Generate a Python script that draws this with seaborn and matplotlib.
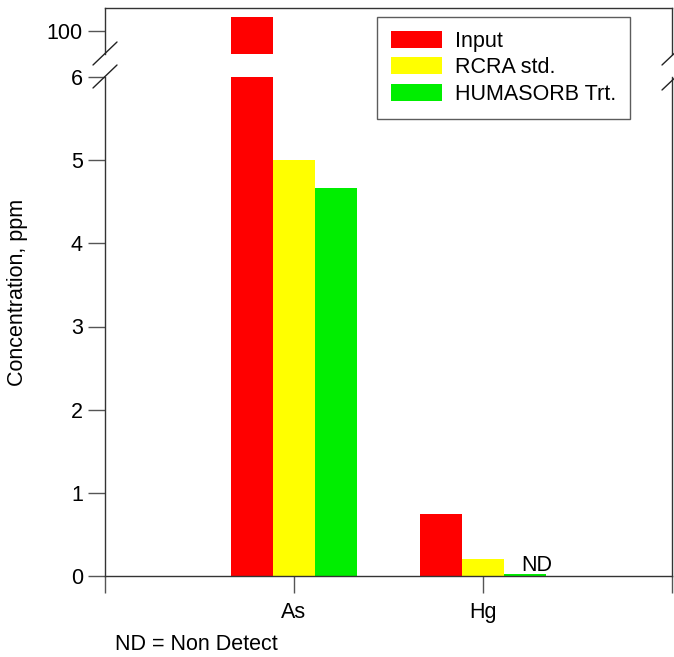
import matplotlib
matplotlib.use("Agg")
import matplotlib.pyplot as plt
import seaborn as sns
import pandas as pd

categories = ["As", "Hg"]
series = ["Input", "RCRA std.", "HUMASORB Trt."]
input_vals = [103.0, 0.75]
rcra_vals = [5.0, 0.2]
huma_vals = [4.67, 0.025]
colors = ["#ff0000", "#ffff00", "#00ee00"]

rows = []
for s, vals in zip(series, [input_vals, rcra_vals, huma_vals]):
    for c, v in zip(categories, vals):
        rows.append({"metal": c, "series": s, "value": v})
df = pd.DataFrame(rows)

sns.set_theme(style="white")
plt.rcParams['font.family'] = ['Liberation Sans', 'DejaVu Sans']
plt.rcParams['text.color'] = 'black'
plt.rcParams['xtick.color'] = 'black'
plt.rcParams['ytick.color'] = 'black'
FS = 15.5

fig = plt.figure(figsize=(6.74, 6.57), dpi=100)
W, H = 674, 657
left, right = 105 / W, 672 / W
ax = fig.add_axes([left, (H - 576) / H, right - left, (576 - 77) / H])
axt = fig.add_axes([left, (H - 54) / H, right - left, (54 - 8) / H])

for a in (ax, axt):
    sns.barplot(data=df, x="metal", y="value", hue="series", palette=colors,
                width=0.667, saturation=1, ax=a, legend=(a is ax), errorbar=None,
                linewidth=0, edgecolor="none")
    a.set_xlim(-1, 2)
    a.set_xlabel("")
    a.set_ylabel("")
    for sp in a.spines.values():
        sp.set_color("#333333")
        sp.set_linewidth(1.0)

ax.set_ylim(0, 6)
ax.set_yticks(range(0, 7))
ax.spines["top"].set_visible(False)
ax.set_xticks([-1, 0, 1, 2])
ax.set_xticklabels(["", "As", "Hg", ""])
ax.tick_params(axis="both", which="both", direction="out", length=12, width=1,
               color="#555555", labelsize=FS, pad=4, bottom=True, left=True,
               labelcolor="black")
ax.tick_params(axis="x", pad=7)

axt.set_ylim(95, 105)
axt.set_yticks([100])
axt.set_xticks([])
axt.spines["bottom"].set_visible(False)
axt.tick_params(axis="y", direction="out", length=12, width=1, color="#555555",
                labelsize=FS, left=True, pad=4, labelcolor="black")

fig.text(18 / W, 1 - 292 / H, "Concentration, ppm", fontsize=FS, rotation=90,
         ha="center", va="center")

# ND annotation
ax.text(1 + 0.667 / 3 - 0.02, 0.0, "ND", fontsize=FS, ha="left", va="bottom")

# break marks
kw = dict(color="#222222", lw=1.0, transform=fig.transFigure, clip_on=False)
def slash_px(x0, y0, x1, y1):
    fig.add_artist(plt.Line2D([x0 / W, x1 / W], [1 - y0 / H, 1 - y1 / H], **kw))
slash_px(93, 65, 117, 42)
slash_px(93, 88, 117, 65)
slash_px(662, 65, 680, 48)
slash_px(662, 90, 680, 73)

# legend
leg = ax.get_legend()
if leg is not None:
    leg.remove()
handles = [plt.Rectangle((0, 0), 1, 1, color=c, linewidth=0) for c in colors]
lg = fig.legend(handles, series, loc="upper left", bbox_to_anchor=(377 / W, 1 - 17 / H),
                fontsize=FS, frameon=True, fancybox=False, edgecolor="#333333",
                handlelength=2.37, handleheight=0.84, borderpad=0.65, labelspacing=0.25,
                handletextpad=0.6, borderaxespad=0)
lg.get_frame().set_linewidth(1.0)

fig.text(115 / W, 1 - 645 / H, "ND = Non Detect", fontsize=FS, ha="left", va="center")

fig.savefig("out.png", dpi=100)
